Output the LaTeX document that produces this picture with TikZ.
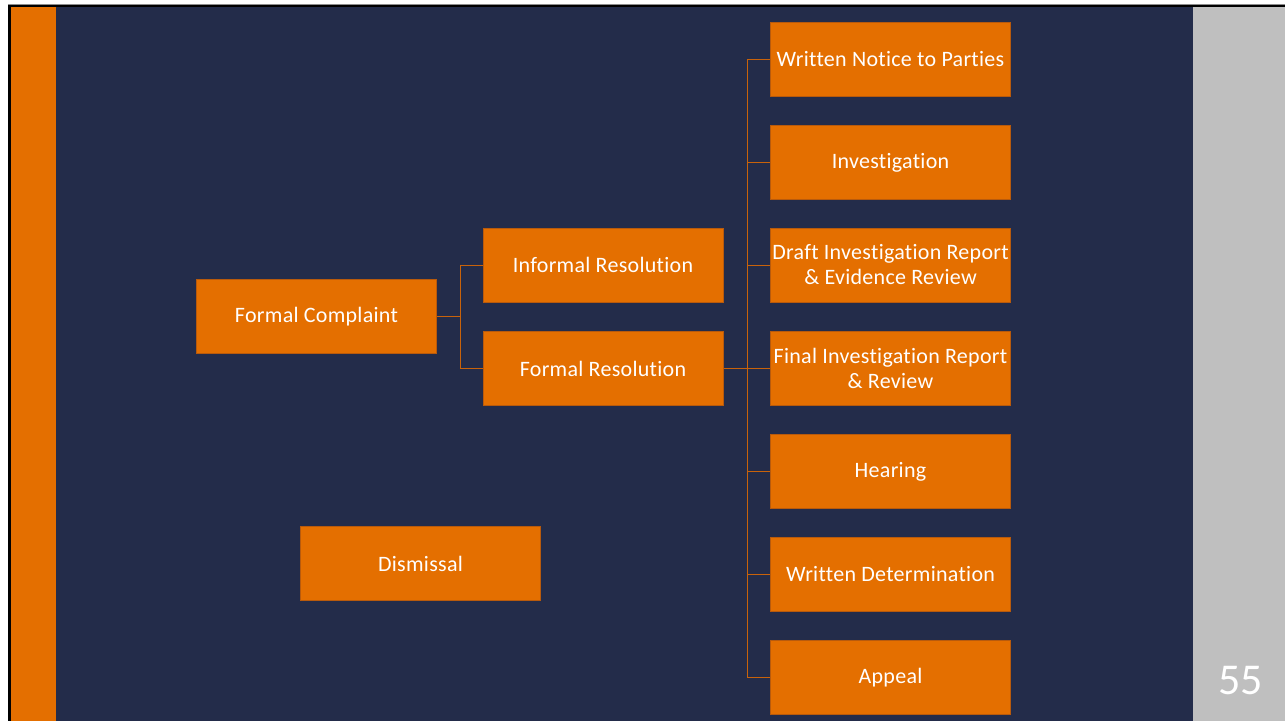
\documentclass[tikz,border=0pt]{standalone}
\usepackage{fontspec}
\setmainfont{Carlito}[Ligatures=NoCommon]
\newfontfamily\boxfont{Carlito}[Ligatures=NoCommon, LetterSpace=1.3]
\definecolor{accent}{HTML}{E46F00}
\definecolor{accentdark}{HTML}{B85A0C}
\definecolor{navy}{HTML}{232C4A}
\definecolor{sidegray}{HTML}{BFBFBF}
\definecolor{linkcol}{HTML}{C8620A}
\tikzset{
  box/.style={fill=accent, draw=accentdark, line width=1pt, minimum width=240, minimum height=74,
    inner sep=0pt, text=white, align=center, font=\boxfont\fontsize{22}{25}\selectfont},
  link/.style={draw=linkcol, line width=1pt},
}
\begin{document}
\begin{tikzpicture}[x=1pt,y=-1pt]
\useasboundingbox (0,0) rectangle (1285,721);
\fill[white] (0,0) rectangle (1285,721);
\fill[black!45] (8,3.5) rectangle (1285,721);
\fill[black] (8,4.5) rectangle (1285,721);
\fill[navy] (11,7) rectangle (1193,721);
\fill[accent] (11,7) rectangle (56,721);
\fill[sidegray] (1193,7) rectangle (1285,721);
\node[text=white, font=\fontsize{44}{50}\selectfont, anchor=center] (pg) at (1240.5,681) {55};

\node[box] (fc) at (316.5,316.5) {Formal Complaint};
\node[box] (ir) at (603,265) {Informal Resolution};
\node[box] (fr) at (603,368.5) {Formal Resolution};
\node[box] (dis) at (420.5,563.5) {Dismissal};

\node[box] (r1) at (890.5,59.5) {Written Notice to Parties};
\node[box] (r2) at (890.5,162.5) {Investigation};
\node[box] (r3) at (890.5,265) {Draft Investigation Report\\\& Evidence Review};
\node[box] (r4) at (890.5,368.5) {Final Investigation Report\\\& Review};
\node[box] (r5) at (890.5,471.5) {Hearing};
\node[box] (r6) at (890.5,574) {Written Determination};
\node[box] (r7) at (890.5,677.5) {Appeal};

\draw[link] (fc.east) -- ++(23,0) |- (ir.west);
\draw[link] (fc.east) -- ++(23,0) |- (fr.west);
\foreach \n in {r1,r2,r3,r4,r5,r6,r7}{
  \draw[link] (fr.east) -- ++(24,0) |- (\n.west);
}
\end{tikzpicture}
\end{document}
